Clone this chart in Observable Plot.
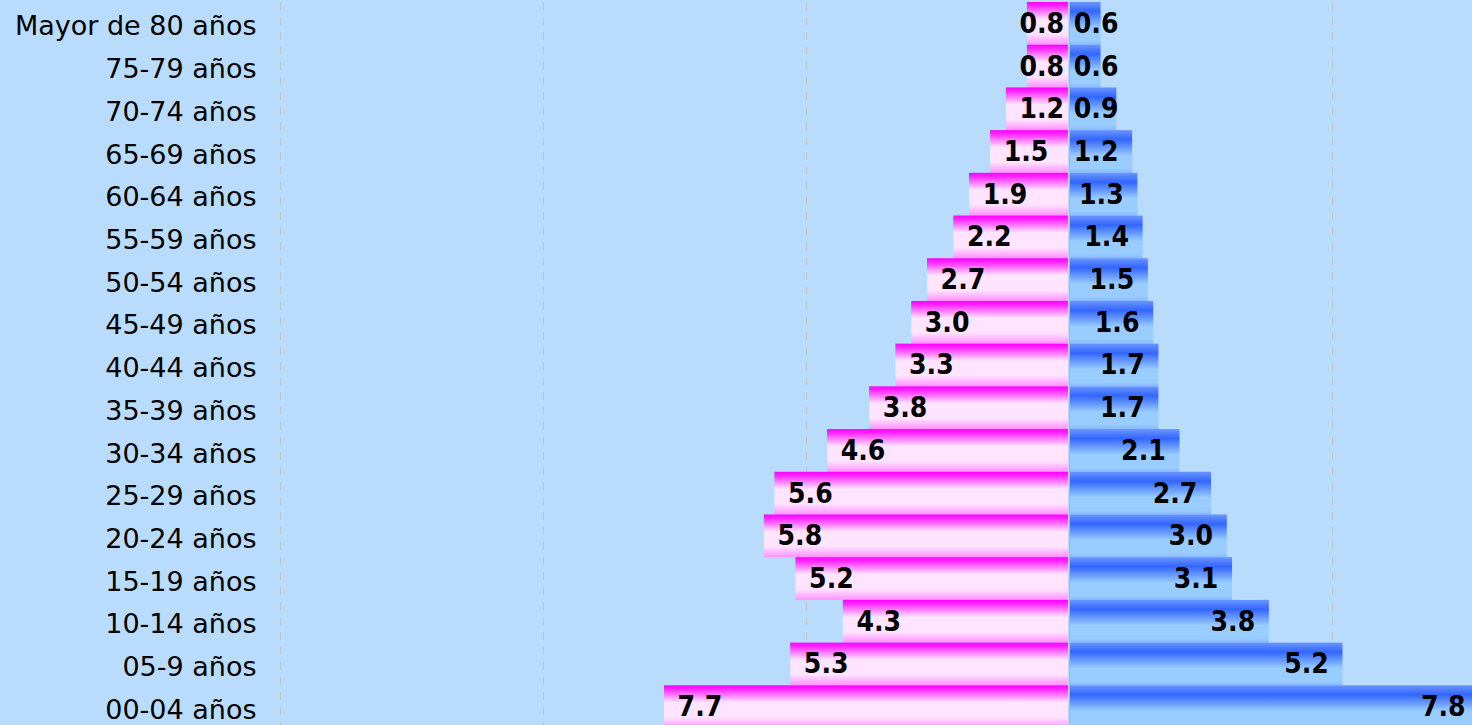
<!DOCTYPE html>
<html><head><meta charset="utf-8">
<script src="https://cdn.jsdelivr.net/npm/d3@7"></script>
<script src="https://cdn.jsdelivr.net/npm/@observablehq/plot@0.6"></script>
<style>
html,body{margin:0;padding:0;background:#badcfc;overflow:hidden;}
</style></head><body>
<div id="chart"></div>
<script>
const ageGroups = ["Mayor de 80 años","75-79 años","70-74 años","65-69 años","60-64 años","55-59 años","50-54 años","45-49 años","40-44 años","35-39 años","30-34 años","25-29 años","20-24 años","15-19 años","10-14 años","05-9 años","00-04 años"];
const mujeres = [0.8,0.8,1.2,1.5,1.9,2.2,2.7,3.0,3.3,3.8,4.6,5.6,5.8,5.2,4.3,5.3,7.7];
const hombres = [0.6,0.6,0.9,1.2,1.3,1.4,1.5,1.6,1.7,1.7,2.1,2.7,3.0,3.1,3.8,5.2,7.8];
const gridTicks = [-15,-10,-5,5];

const rows = ageGroups.map((g,i)=>({group:g, f:mujeres[i], m:hombres[i]}));

const chart = Plot.plot({
  width: 1472, height: 728,
  marginLeft: 280, marginRight: 0, marginTop: 2, marginBottom: 0,
  style: {background:"#badcfc", fontFamily:"DejaVu Sans", fontSize:"27px", color:"#000", overflow:"hidden"},
  x: {domain: [-15, 7.662], axis: null},
  y: {domain: ageGroups, padding: 0, round: false, axis: null},
  marks: [
    Plot.ruleX(gridTicks, {stroke:"#c3c3c3", strokeDasharray:"8,7"}),
    Plot.barX(rows, {x1: 0, x2: d => -d.f, y: "group", fill: "url(#gPink)", insetRight: 1}),
    Plot.barX(rows, {x1: 0, x2: "m", y: "group", fill: "url(#gBlue)", insetLeft: 1}),
    Plot.ruleX([0], {stroke:"#b5b5b5"}),
    Plot.text(rows, {x: d => Math.min(-d.f + 0.25, -0.95), y: "group", text: d => d.f.toFixed(1), textAnchor: "start", fontFamily: "DejaVu Sans Condensed", fontWeight: "bold", fontSize: 28, fill: "#000", dy: 0}),
    Plot.text(rows, {x: d => Math.max(d.m - 0.27, 0.93), y: "group", text: d => d.m.toFixed(1), textAnchor: "end", fontFamily: "DejaVu Sans Condensed", fontWeight: "bold", fontSize: 28, fill: "#000", dy: 0}),
    Plot.axisY({anchor: "left", tickSize: 0, tickPadding: 24, label: null, fontSize: 27, dy: 3})
  ]
});

const svg = d3.select(chart);
const defs = svg.insert("defs", ":first-child");
function grad(id, stops) {
  const g = defs.append("linearGradient").attr("id", id).attr("x1", 0).attr("y1", 0).attr("x2", 0).attr("y2", 1);
  stops.forEach(([o, c]) => g.append("stop").attr("offset", o).attr("stop-color", c));
}
grad("gPink", [[0, "#ff00ff"], [0.08, "#ff20ff"], [0.4, "#ffe4ff"], [0.75, "#ffe4ff"], [1, "#ff90ff"]]);
grad("gBlue", [[0, "#6a96ff"], [0.22, "#3366ff"], [0.6, "#99ccff"], [0.9, "#99ccff"], [1, "#88b8ff"]]);
document.getElementById("chart").appendChild(chart);
</script>
</body></html>
